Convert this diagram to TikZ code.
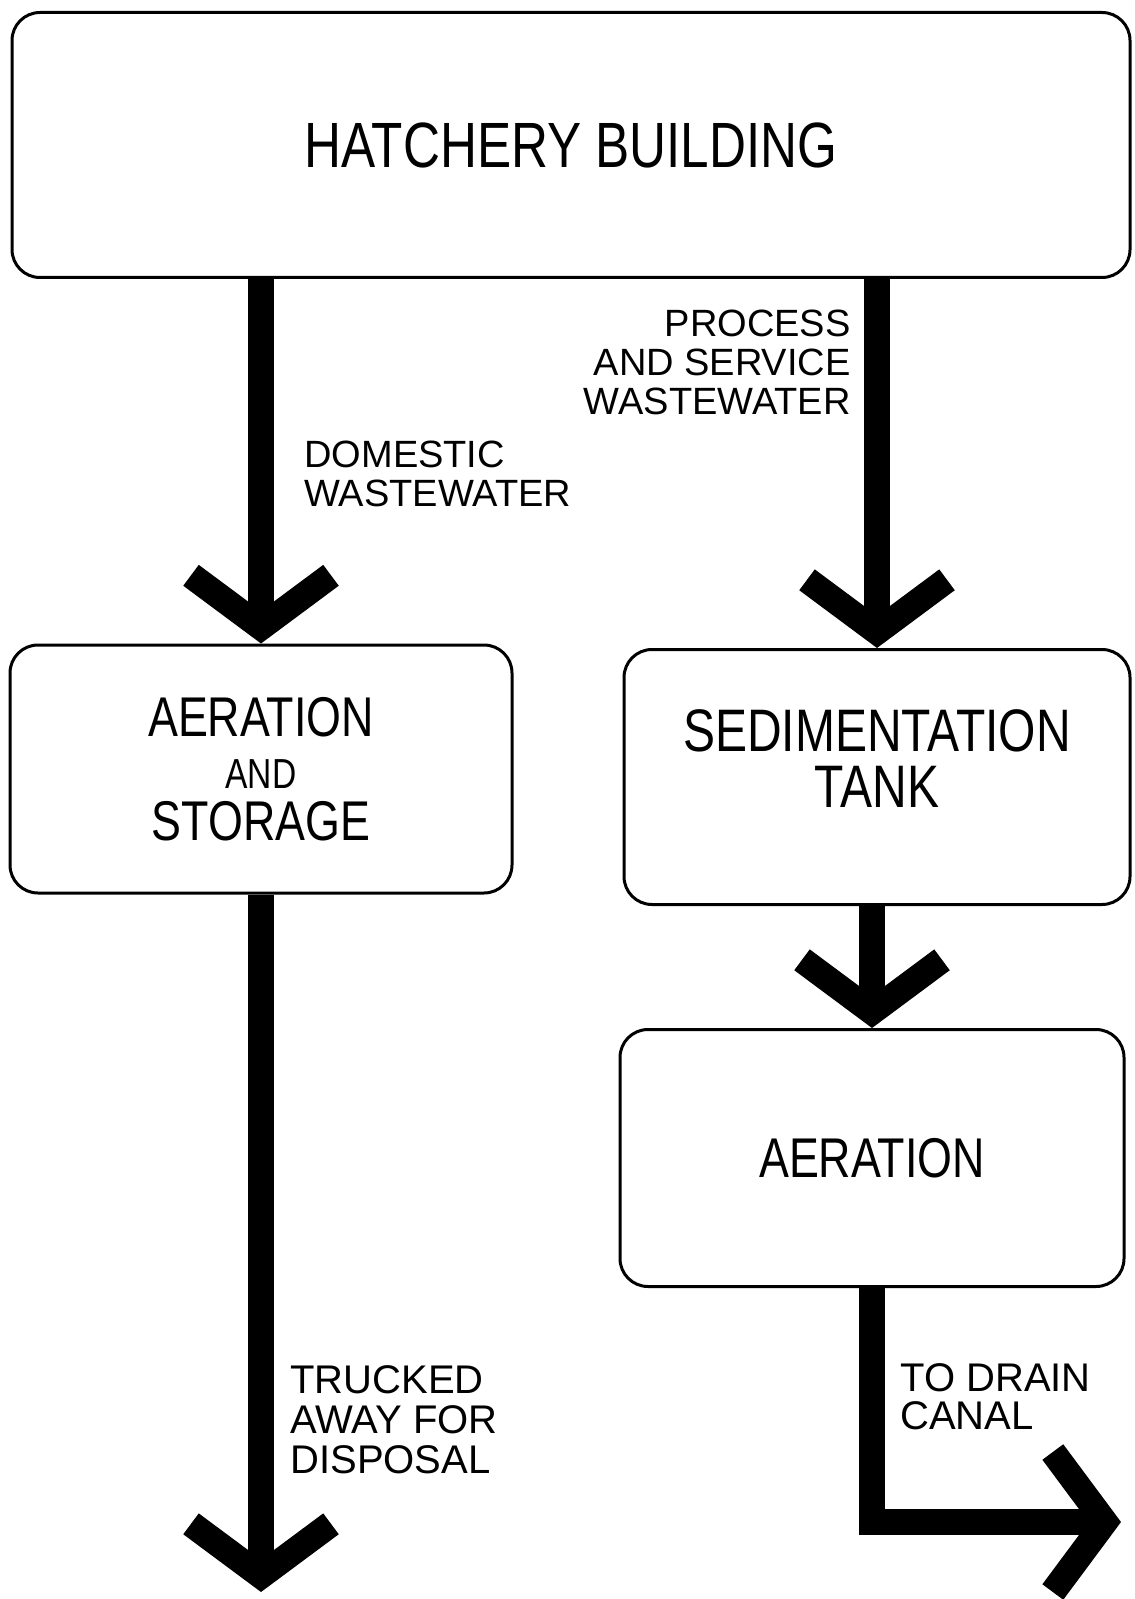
\documentclass[tikz,border=0pt]{standalone}
\usepackage{fontspec}
\setmainfont{Liberation Sans}[FakeStretch=0.8]
\newfontfamily\notefont{Liberation Sans}
\usetikzlibrary{arrows.meta}

\begin{document}
\begin{tikzpicture}[x=0.5pt,y=-0.5pt,
  box/.style={draw,line width=1.5pt,rounded corners=14pt,inner sep=0pt,align=center},
  flow/.style={line width=13pt,-{Straight Barb[length=26pt,width=70pt]}},
  note/.style={inner sep=0pt,font=\notefont\fontsize{19}{19.5}\selectfont}]
\useasboundingbox (0,0) rectangle (1134,1599);
% boxes
\node[box,minimum width=559pt,minimum height=132.5pt,font=\fontsize{32}{36}\selectfont] (hatch) at (571,145) {HATCHERY BUILDING};
\node[box,minimum width=251pt,minimum height=124pt,font=\fontsize{28}{28}\selectfont] (store) at (261,769)
  {AERATION\\[-2pt]{\fontsize{21}{21}\selectfont AND}\\[-2pt]STORAGE};
\node[box,minimum width=253pt,minimum height=127.5pt,font=\fontsize{30}{28}\selectfont] (sed) at (877,777) {SEDIMENTATION\\TANK\\[-10pt]};
\node[box,minimum width=252pt,minimum height=128.5pt,font=\fontsize{28}{28}\selectfont] (aer) at (872,1158) {AERATION};
% free ends
\coordinate (disp) at (261,1592);
\coordinate (canal) at (1121,1522);
% flows
\draw[flow] (hatch.south -| store.north) -- (store.north);
\draw[flow] (hatch.south -| sed.north) -- (sed.north);
\draw[flow] (sed.south -| aer.north) -- (aer.north);
\draw[flow] (store.south) -- (disp);
\draw[flow] (aer.south) |- (canal);
% labels
\node[note,align=right,anchor=north east] (proc) at (851,310) {PROCESS\\AND SERVICE\\WASTEWATER};
\node[note,align=left,anchor=north west] (dom) at (304,441) {DOMESTIC\\WASTEWATER};
\node[note,align=left,anchor=north west,font=\notefont\fontsize{20}{20}\selectfont] (truck) at (290,1365) {TRUCKED\\AWAY FOR\\DISPOSAL};
\node[note,align=left,anchor=north west,font=\notefont\fontsize{20}{19}\selectfont] (drain) at (900,1363) {TO DRAIN\\CANAL};
\end{tikzpicture}
\end{document}
